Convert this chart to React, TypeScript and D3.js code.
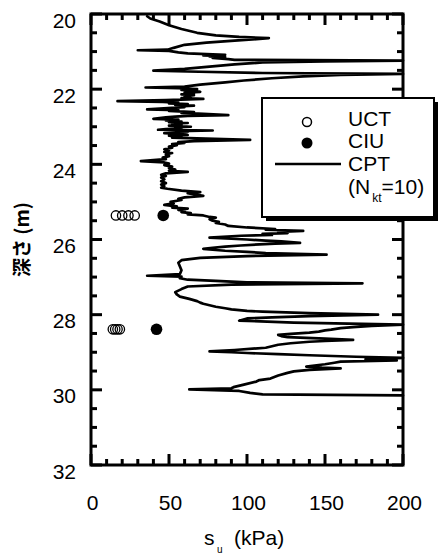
import React from 'react';
import * as d3 from 'd3';

// CPT-derived undrained shear strength profile: [depth (m), su (kPa)]
const cptProfile: [number, number][] = [
  [20.06, 36], [20.12, 38], [20.2, 44], [20.3, 50], [20.4, 58], [20.5, 68], [20.57, 80], [20.61, 95],
  [20.64, 114], [20.67, 106], [20.71, 92], [20.76, 74], [20.82, 60], [20.9, 53], [20.95, 49], [20.965, 30],
  [20.98, 50], [21.02, 56], [21.05, 62], [21.07, 74], [21.085, 86], [21.1, 72], [21.115, 84], [21.13, 76],
  [21.15, 86], [21.17, 78], [21.2, 88], [21.22, 92], [21.24, 200], [21.26, 150], [21.29, 110], [21.34, 92],
  [21.4, 76], [21.46, 60], [21.505, 40], [21.53, 62], [21.57, 110], [21.595, 200], [21.62, 160], [21.66, 136],
  [21.71, 116], [21.77, 98], [21.82, 86], [21.88, 70], [21.93, 60], [21.955, 35], [21.975, 56], [21.99, 64],
  [22.0, 68], [22.02, 58], [22.04, 66], [22.07, 70], [22.09, 60], [22.11, 66], [22.14, 58], [22.16, 66],
  [22.19, 60], [22.21, 64], [22.24, 58], [22.26, 72], [22.29, 48], [22.32, 17], [22.34, 46], [22.36, 56],
  [22.38, 50], [22.4, 62], [22.42, 54], [22.44, 66], [22.46, 56], [22.48, 60], [22.5, 52], [22.54, 36],
  [22.56, 56], [22.58, 50], [22.61, 66], [22.63, 58], [22.66, 72], [22.69, 88], [22.71, 62], [22.73, 54],
  [22.75, 48], [22.79, 40], [22.81, 56], [22.83, 48], [22.86, 58], [22.88, 50], [22.9, 62], [22.92, 52],
  [22.95, 58], [22.97, 50], [23.0, 64], [23.02, 54], [23.04, 58], [23.06, 48], [23.08, 43], [23.1, 78],
  [23.12, 56], [23.14, 62], [23.17, 47], [23.19, 56], [23.22, 62], [23.24, 50], [23.27, 58], [23.29, 52],
  [23.31, 68], [23.35, 102], [23.38, 66], [23.41, 56], [23.43, 60], [23.46, 52], [23.49, 55], [23.53, 50],
  [23.56, 52], [23.6, 47], [23.63, 50], [23.67, 47], [23.7, 52], [23.74, 48], [23.78, 50], [23.82, 46],
  [23.86, 48], [23.915, 32], [23.95, 47], [23.98, 50], [24.02, 47], [24.06, 52], [24.1, 50], [24.14, 54],
  [24.17, 50], [24.2, 62], [24.24, 48], [24.28, 45], [24.31, 48], [24.35, 45], [24.4, 47], [24.45, 45],
  [24.5, 48], [24.54, 45], [24.58, 47], [24.62, 45], [24.65, 49], [24.7, 58], [24.74, 70], [24.77, 62],
  [24.8, 66], [24.84, 72], [24.88, 60], [24.92, 56], [24.95, 58], [25.0, 51], [25.04, 53], [25.08, 47],
  [25.12, 55], [25.15, 52], [25.18, 62], [25.21, 56], [25.24, 60], [25.27, 58], [25.3, 64], [25.33, 62],
  [25.36, 72], [25.4, 76], [25.42, 80], [25.46, 76], [25.5, 78], [25.53, 82], [25.56, 80], [25.6, 86],
  [25.64, 88], [25.68, 100], [25.72, 118], [25.74, 112], [25.77, 136], [25.8, 120], [25.83, 126], [25.85, 110],
  [25.88, 116], [25.9, 96], [25.95, 76], [25.98, 90], [26.0, 100], [26.03, 112], [26.05, 122], [26.09, 134],
  [26.11, 118], [26.13, 108], [26.16, 96], [26.19, 86], [26.22, 78], [26.25, 72], [26.28, 80], [26.3, 86],
  [26.33, 100], [26.36, 112], [26.405, 151], [26.44, 100], [26.49, 70], [26.55, 58], [26.62, 56], [26.72, 57],
  [26.82, 58], [26.92, 57], [26.965, 36], [26.99, 58], [27.03, 57], [27.07, 62], [27.1, 80], [27.14, 100],
  [27.165, 174], [27.2, 90], [27.25, 62], [27.32, 58], [27.4, 54], [27.46, 55], [27.52, 57], [27.58, 63],
  [27.64, 68], [27.68, 70], [27.71, 72], [27.75, 76], [27.79, 80], [27.83, 86], [27.86, 90], [27.9, 100],
  [27.92, 110], [27.96, 140], [28.0, 184], [28.04, 140], [28.07, 116], [28.1, 100], [28.16, 95], [28.21, 130],
  [28.265, 200], [28.3, 180], [28.33, 168], [28.36, 160], [28.4, 154], [28.42, 150], [28.45, 146], [28.48, 140],
  [28.51, 128], [28.54, 120], [28.57, 122], [28.6, 126], [28.64, 150], [28.67, 168], [28.7, 150], [28.72, 140],
  [28.76, 128], [28.8, 120], [28.84, 116], [28.88, 112], [28.94, 92], [28.975, 76], [29.0, 90], [29.02, 100],
  [29.05, 120], [29.08, 140], [29.12, 170], [29.15, 200], [29.19, 176], [29.22, 196], [29.25, 160], [29.28, 156],
  [29.32, 150], [29.38, 138], [29.41, 148], [29.43, 160], [29.47, 140], [29.51, 130], [29.55, 126], [29.62, 120],
  [29.7, 115], [29.74, 108], [29.78, 106], [29.86, 98], [29.92, 92], [29.96, 90], [29.99, 63], [30.03, 95],
  [30.08, 102], [30.12, 110], [30.15, 200],
];

// Unconfined compression tests (open circles)
const uctDepth = [25.36, 25.36, 25.36, 25.36, 28.39, 28.39, 28.39, 28.39];
const uctSu = [16, 20, 24, 28, 14, 15.5, 17, 18.5];

// Isotropically consolidated undrained tests (filled circles)
const ciuDepth = [25.36, 28.39];
const ciuSu = [46.3, 42];

const xTickValues = [0, 50, 100, 150, 200];
const yTickValues = [20, 22, 24, 26, 28, 30, 32];
const legendLabels = ['UCT', 'CIU', 'CPT'];

const W = 444;
const H = 556;
const FONT = '"Liberation Sans", Arial, Helvetica, sans-serif';

export default function App() {
  const x = d3.scaleLinear().domain([0, 200]).range([91, 403]);
  const y = d3.scaleLinear().domain([20, 32]).range([14, 465]);

  const line = d3
    .line<[number, number]>()
    .x((d) => x(d[1]))
    .y((d) => y(d[0]));

  const xMinor = d3.range(0, 201, 10);
  const yMinor = d3.range(20, 32.01, 0.5);
  const isMajorX = (v: number) => v % 50 === 0;
  const isMajorY = (v: number) => Math.abs(v % 2) < 1e-6;

  const [x0, x1] = x.range();
  const [y0, y1] = y.range();
  const tickW = 3;
  const minorLen = 6;
  const majorLen = 11;

  // legend geometry
  const lx = 262;
  const ly = 98;
  const lw = 172;
  const lh = 119;

  return (
    <svg
      width={W}
      height={H}
      style={{ position: 'absolute', left: 0, top: 0, display: 'block', background: '#fff' }}
      fontFamily={FONT}
    >
      <rect x={0} y={0} width={W} height={H} fill="#fff" />

      {/* CPT profile */}
      <path
        d={line(cptProfile) || ''}
        fill="none"
        stroke="#000"
        strokeWidth={2.7}
        strokeLinejoin="round"
        strokeLinecap="round"
      />

      {/* ticks */}
      {xMinor.map((v) => {
        const len = isMajorX(v) ? majorLen : minorLen;
        return (
          <g key={'xt' + v}>
            <line x1={x(v)} x2={x(v)} y1={y1} y2={y1 - len} stroke="#000" strokeWidth={tickW} />
            <line x1={x(v)} x2={x(v)} y1={y0} y2={y0 + len} stroke="#000" strokeWidth={tickW} />
          </g>
        );
      })}
      {yMinor.map((v) => {
        const len = isMajorY(v) ? majorLen : minorLen;
        return (
          <g key={'yt' + v}>
            <line x1={x0} x2={x0 + len} y1={y(v)} y2={y(v)} stroke="#000" strokeWidth={tickW} />
            <line x1={x1} x2={x1 - len} y1={y(v)} y2={y(v)} stroke="#000" strokeWidth={tickW} />
          </g>
        );
      })}

      {/* frame */}
      <rect x={x0} y={y0} width={x1 - x0} height={y1 - y0} fill="none" stroke="#000" strokeWidth={3} />

      {/* UCT points */}
      {uctSu.map((s, i) => (
        <circle key={'u' + i} cx={x(s)} cy={y(uctDepth[i])} r={4.7} fill="none" stroke="#000" strokeWidth={1.3} />
      ))}
      {/* CIU points */}
      {ciuSu.map((s, i) => (
        <circle key={'c' + i} cx={x(s)} cy={y(ciuDepth[i])} r={5.8} fill="#000" />
      ))}

      {/* x tick labels */}
      {xTickValues.map((v) => (
        <text key={'xl' + v} x={x(v) + 1.5} y={510} textAnchor="middle" fontSize={21} fill="#000">
          {v}
        </text>
      ))}
      {/* y tick labels */}
      {yTickValues.map((v) => (
        <text key={'yl' + v} x={76} y={y(v) + 13.5} textAnchor="end" fontSize={21} fill="#000">
          {v}
        </text>
      ))}

      {/* x title */}
      <text x={204} y={545} fontSize={21} fill="#000">
        s
      </text>
      <text x={217} y={553} fontSize={10} fill="#000">
        u
      </text>
      <text x={234} y={545} fontSize={21} fill="#000">
        (kPa)
      </text>

      {/* y title */}
      <text
        transform={`translate(29, ${(y0 + y1) / 2}) rotate(-90)`}
        textAnchor="middle"
        fontSize={19}
        fontWeight={700}
        fontFamily='"Noto Sans CJK JP", sans-serif'
        fill="#000"
      >
        深さ (m)
      </text>

      {/* legend */}
      <rect x={lx + 4} y={ly + 4} width={lw} height={lh} fill="#000" />
      <rect x={lx} y={ly} width={lw} height={lh} fill="#fff" stroke="#000" strokeWidth={2} />
      <circle cx={307} cy={122} r={4.5} fill="none" stroke="#000" strokeWidth={1.5} />
      <circle cx={307} cy={143} r={5.5} fill="#000" />
      <line x1={275} x2={341} y1={164} y2={164} stroke="#000" strokeWidth={2.5} />
      <text x={348} y={126} fontSize={21} fill="#000">{legendLabels[0]}</text>
      <text x={348} y={148} fontSize={21} fill="#000">{legendLabels[1]}</text>
      <text x={348} y={171} fontSize={21} fill="#000">{legendLabels[2]}</text>
      <text x={348} y={194} fontSize={21} fill="#000">
        (N
        <tspan fontSize={12} dx={2} dy={8}>kt</tspan>
        <tspan dy={-8}>=10)</tspan>
      </text>
    </svg>
  );
}
